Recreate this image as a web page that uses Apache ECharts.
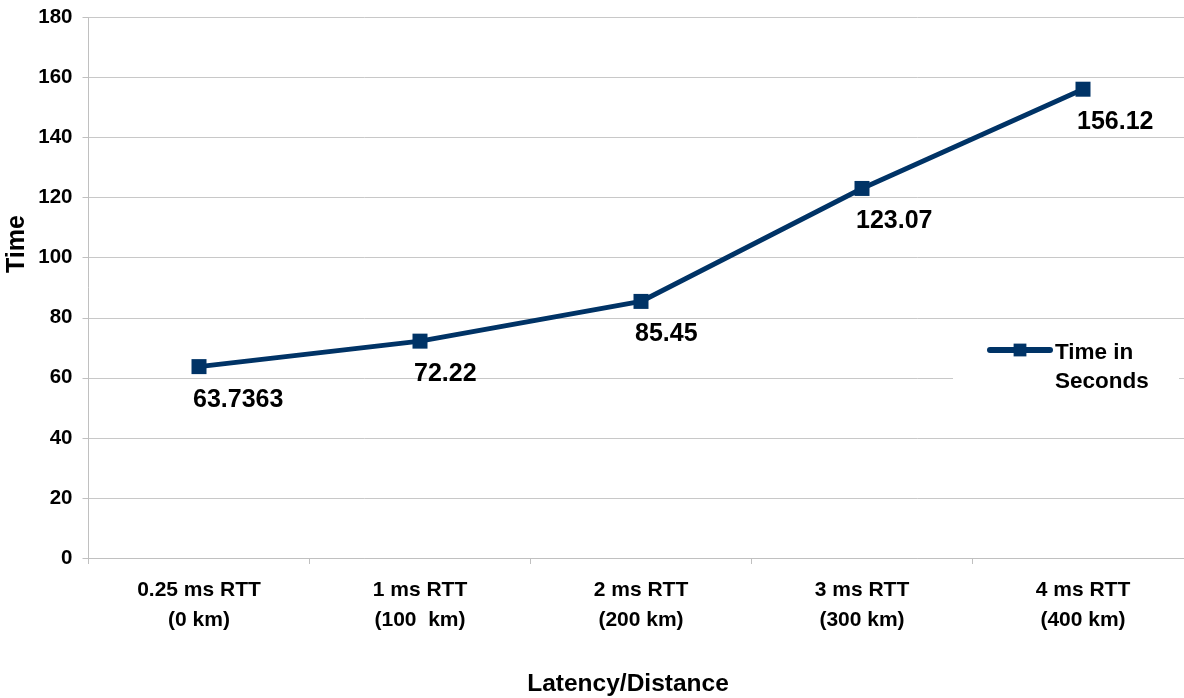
<!DOCTYPE html>
<html><head><meta charset="utf-8">
<script src="https://cdn.jsdelivr.net/npm/echarts@6/dist/echarts.min.js"></script>
<style>html,body{margin:0;padding:0;background:#fff;overflow:hidden;width:1184px;height:698px}#c{width:1194px;height:698px}</style>
</head><body><div id="c"></div>
<script>
const categories = ['0.25 ms RTT\n(0 km)', '1 ms RTT\n(100  km)', '2 ms RTT\n(200 km)', '3 ms RTT\n(300 km)', '4 ms RTT\n(400 km)'];
const timeSeconds = [63.7363, 72.22, 85.45, 123.07, 156.12];
const seriesName = 'Time in\nSeconds';
const FONT = '"Liberation Sans", Arial, sans-serif';
const NAVY = '#003366';
const chart = echarts.init(document.getElementById('c'));
chart.setOption({
  animation: false,
  backgroundColor: '#fff',
  grid: { left: 88.5, top: 17.5, height: 540.5, width: 1105, containLabel: false },
  xAxis: {
    type: 'category', data: categories, boundaryGap: true,
    axisLine: { lineStyle: { color: '#c0c0c0', width: 1 } },
    axisTick: { show: true, length: 6, lineStyle: { color: '#c0c0c0' } },
    axisLabel: { color: '#000', fontFamily: FONT, fontWeight: 'bold', fontSize: 21, lineHeight: 30, margin: 17 }
  },
  yAxis: {
    type: 'value', min: 0, max: 180, interval: 20,
    axisLine: { show: true, lineStyle: { color: '#c0c0c0', width: 1 } },
    axisTick: { show: true, length: 6, lineStyle: { color: '#c0c0c0' } },
    splitLine: { lineStyle: { color: '#c8c8c8', width: 1 } },
    axisLabel: { color: '#000', fontFamily: FONT, fontWeight: 'bold', fontSize: 20.5, margin: 16 }
  },
  legend: {
    data: [seriesName], left: 987, top: 316, orient: 'vertical',
    padding: 0, itemGap: 0,
    itemWidth: 60, itemHeight: 16,
    lineStyle: { width: 6, cap: 'round' },
    formatter: function (n) {
      return '{b| }\n' + n.split('\n').map(function (s) { return '{t|' + s + '}'; }).join('\n');
    },
    textStyle: {
      color: '#000', fontFamily: FONT, fontWeight: 'bold', fontSize: 22.5,
      rich: {
        b: { lineHeight: 35, fontSize: 10 },
        t: { lineHeight: 29, fontSize: 22.5, fontWeight: 'bold', fontFamily: FONT, color: '#000' }
      }
    }
  },
  graphic: [
    { type: 'rect', z: 3, shape: { x: 953, y: 345, width: 226, height: 50 }, style: { fill: '#fff' } },
    { type: 'text', x: 17.5, y: 244, rotation: Math.PI / 2,
      style: { text: 'Time', fill: '#000', font: 'bold 25px "Liberation Sans", Arial, sans-serif', align: 'center', verticalAlign: 'middle' } },
    { type: 'text', x: 628, y: 684,
      style: { text: 'Latency/Distance', fill: '#000', font: 'bold 24.5px "Liberation Sans", Arial, sans-serif', align: 'center', verticalAlign: 'middle' } }
  ],
  series: [{
    name: seriesName, type: 'line', data: timeSeconds,
    symbol: 'rect', symbolSize: 15,
    lineStyle: { color: NAVY, width: 5 },
    itemStyle: { color: NAVY },
    label: { show: true, position: 'bottom', align: 'left', offset: [-6, 8], color: '#000', fontFamily: FONT, fontWeight: 'bold', fontSize: 25 }
  }]
});
</script></body></html>
